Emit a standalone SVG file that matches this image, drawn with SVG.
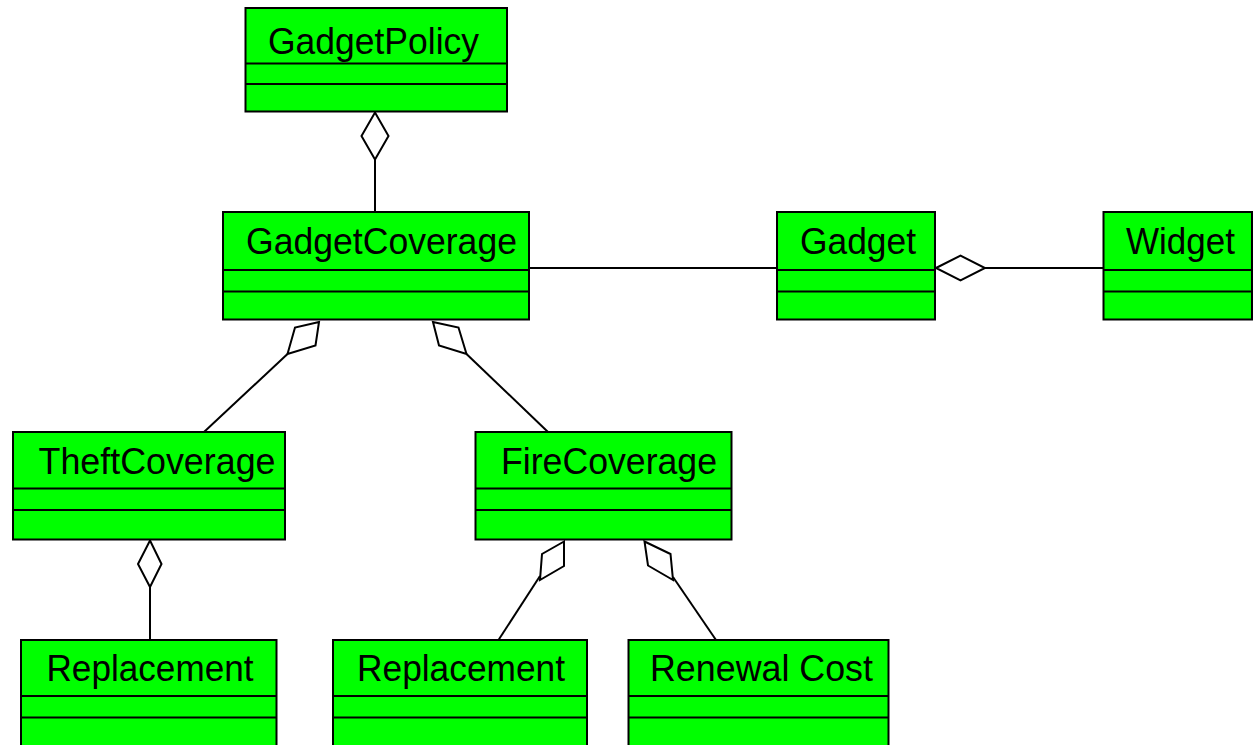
<svg xmlns="http://www.w3.org/2000/svg" width="1253" height="745" viewBox="0 0 1253 745">
  <style>
    .box { fill: #00ff00; stroke: #000; stroke-width: 2; }
    .div { stroke: #000; stroke-width: 2; }
    .name { font-family: "Liberation Sans", Arial, sans-serif; font-size: 37px; fill: #000; }
    .edge { fill: none; stroke: #000; stroke-width: 2; }
    .agg { fill: #fff; stroke: #000; stroke-width: 2; stroke-linejoin: miter; }
  </style>
  <rect width="1253" height="745" fill="#fff"/>

  <!-- associations and aggregations -->
  <g id="connectors">
    <!-- GadgetPolicy <>- GadgetCoverage -->
    <line class="edge" x1="375" y1="159" x2="375" y2="212"/>
    <polygon class="agg" points="375,112.5 388.5,136 375,159.5 361.5,136"/>
    <!-- GadgetCoverage - Gadget -->
    <line class="edge" x1="529" y1="268" x2="777" y2="268"/>
    <!-- Gadget <>- Widget -->
    <line class="edge" x1="985" y1="268" x2="1103.5" y2="268"/>
    <polygon class="agg" points="936,268 960.5,255.5 985,268 960.5,280.5"/>
    <!-- GadgetCoverage <>- TheftCoverage -->
    <line class="edge" x1="287.5" y1="354" x2="204" y2="432"/>
    <polygon class="agg" points="319,322 295,327.5 287.5,354 315.5,345.5"/>
    <!-- GadgetCoverage <>- FireCoverage -->
    <line class="edge" x1="466.5" y1="354" x2="548" y2="432"/>
    <polygon class="agg" points="433,322 458.5,327.5 466.5,354 439,345.5"/>
    <!-- TheftCoverage <>- Replacement -->
    <line class="edge" x1="150" y1="587" x2="150" y2="640"/>
    <polygon class="agg" points="150,540.5 161.5,564 150,587 138,564"/>
    <!-- FireCoverage <>- Replacement -->
    <line class="edge" x1="540" y1="576" x2="498.5" y2="640"/>
    <polygon class="agg" points="564,541.5 542,554 540,580 564,566"/>
    <!-- FireCoverage <>- Renewal Cost -->
    <line class="edge" x1="673" y1="577" x2="716" y2="640"/>
    <polygon class="agg" points="644.5,541.5 670.5,554 673,580 648,565.5"/>
  </g>

  <g id="GadgetPolicy">
    <rect class="box" x="245.5" y="8" width="261.5" height="103.5"/>
    <line class="div" x1="245.5" y1="63.5" x2="507" y2="63.5"/>
    <line class="div" x1="245.5" y1="84" x2="507" y2="84"/>
    <text class="name" x="268" y="53.5" textLength="211" lengthAdjust="spacingAndGlyphs">GadgetPolicy</text>
  </g>

  <g id="GadgetCoverage">
    <rect class="box" x="223" y="212" width="306" height="107.5"/>
    <line class="div" x1="223" y1="270" x2="529" y2="270"/>
    <line class="div" x1="223" y1="291.5" x2="529" y2="291.5"/>
    <text class="name" x="246" y="253.5" textLength="271" lengthAdjust="spacingAndGlyphs">GadgetCoverage</text>
  </g>

  <g id="Gadget">
    <rect class="box" x="777" y="212" width="158" height="107.5"/>
    <line class="div" x1="777" y1="270" x2="935" y2="270"/>
    <line class="div" x1="777" y1="291.5" x2="935" y2="291.5"/>
    <text class="name" x="800" y="253.5" textLength="116" lengthAdjust="spacingAndGlyphs">Gadget</text>
  </g>

  <g id="Widget">
    <rect class="box" x="1103.5" y="212" width="148.5" height="107.5"/>
    <line class="div" x1="1103.5" y1="270" x2="1252" y2="270"/>
    <line class="div" x1="1103.5" y1="291.5" x2="1252" y2="291.5"/>
    <text class="name" x="1126" y="253.5" textLength="109" lengthAdjust="spacingAndGlyphs">Widget</text>
  </g>

  <g id="TheftCoverage">
    <rect class="box" x="13" y="432" width="272" height="107.5"/>
    <line class="div" x1="13" y1="488.5" x2="285" y2="488.5"/>
    <line class="div" x1="13" y1="510" x2="285" y2="510"/>
    <text class="name" x="38.5" y="473.5" textLength="237" lengthAdjust="spacingAndGlyphs">TheftCoverage</text>
  </g>

  <g id="FireCoverage">
    <rect class="box" x="475.5" y="432" width="256" height="107.5"/>
    <line class="div" x1="475.5" y1="488.5" x2="731.5" y2="488.5"/>
    <line class="div" x1="475.5" y1="510" x2="731.5" y2="510"/>
    <text class="name" x="501" y="473.5" textLength="216" lengthAdjust="spacingAndGlyphs">FireCoverage</text>
  </g>

  <g id="TheftReplacement">
    <rect class="box" x="21" y="640" width="255.5" height="115"/>
    <line class="div" x1="21" y1="696" x2="276.5" y2="696"/>
    <line class="div" x1="21" y1="717.5" x2="276.5" y2="717.5"/>
    <text class="name" x="46.5" y="681" textLength="207" lengthAdjust="spacingAndGlyphs">Replacement</text>
  </g>

  <g id="FireReplacement">
    <rect class="box" x="333" y="640" width="254" height="115"/>
    <line class="div" x1="333" y1="696" x2="587" y2="696"/>
    <line class="div" x1="333" y1="717.5" x2="587" y2="717.5"/>
    <text class="name" x="357" y="681" textLength="208" lengthAdjust="spacingAndGlyphs">Replacement</text>
  </g>

  <g id="RenewalCost">
    <rect class="box" x="628.5" y="640" width="260" height="115"/>
    <line class="div" x1="628.5" y1="696" x2="888.5" y2="696"/>
    <line class="div" x1="628.5" y1="717.5" x2="888.5" y2="717.5"/>
    <text class="name" x="650" y="681" textLength="223" lengthAdjust="spacingAndGlyphs">Renewal Cost</text>
  </g>
</svg>
